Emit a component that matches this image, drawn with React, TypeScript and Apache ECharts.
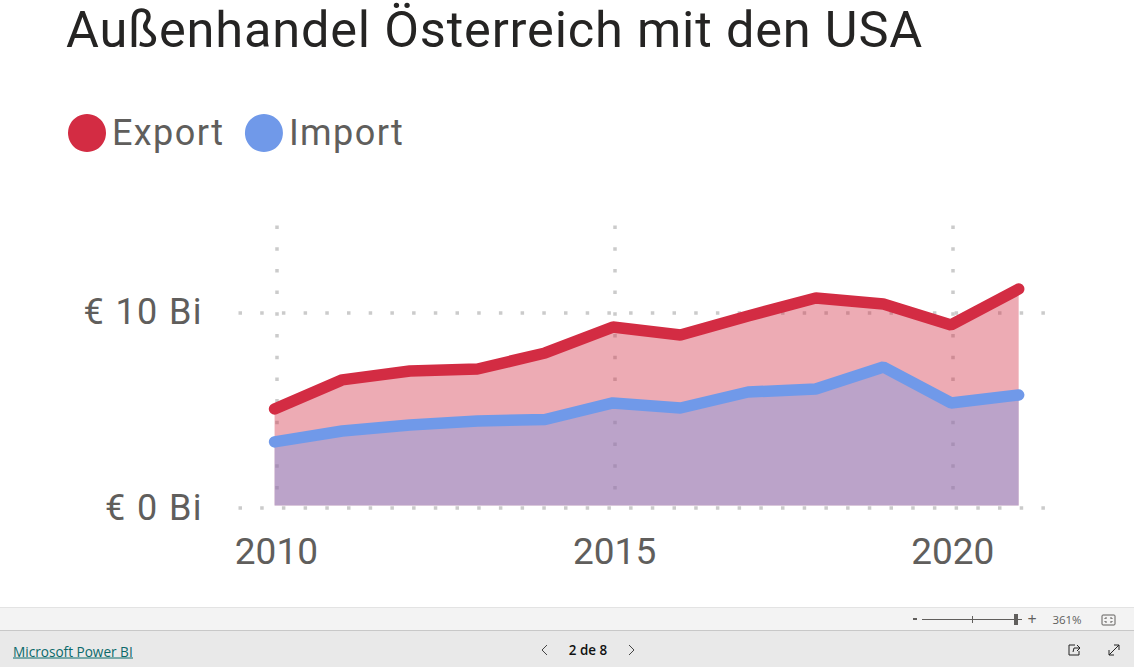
import React, { useEffect, useRef } from "react";
import * as echarts from "echarts";

const years = [2010, 2011, 2012, 2013, 2014, 2015, 2016, 2017, 2018, 2019, 2020, 2021];
const exportValues = [4.95, 6.44, 6.9, 7.0, 7.82, 9.15, 8.74, 9.72, 10.64, 10.33, 9.26, 11.1];
const importValues = [3.26, 3.82, 4.13, 4.33, 4.41, 5.26, 5.0, 5.82, 5.97, 7.1, 5.26, 5.67];
const xTicks = [2010, 2015, 2020];
const yTicks = [0, 10];
const seriesNames = ["Export", "Import"];
const titleText = "Außenhandel Österreich mit den USA";

const RED = "#D32C43";
const BLUE = "#7099E9";
const FONT = "Roboto";
const GRID_DOT = { color: "#CBCBCB", width: 3.5, type: [3.5, 18.2] as number[] };
const X_MIN = 2009.44;
const X_MAX = 2021.37;
const Y_MAX = 14.46;

const pair = (xs: number[], ys: number[]) => xs.map((x, i) => [x, ys[i]]);

export default function App() {
  const ref = useRef<HTMLDivElement>(null);
  useEffect(() => {
    document.body.style.margin = "0";
    const chart = echarts.init(ref.current!, undefined, { renderer: "svg" });
    const line = (x1: number, y1: number, x2: number, y2: number, stroke: string, lineWidth = 1) => ({
      type: "line", shape: { x1, y1, x2, y2 }, style: { stroke, lineWidth }, silent: true,
    });
    const poly = (points: number[][], stroke: string, lineWidth = 1) => ({
      type: "polyline", shape: { points }, style: { stroke, lineWidth, fill: "none" }, silent: true,
    });
    const label = (x: number, y: number, text: string, fill: string, fontSize: number, align = "left", extra: any = {}) => ({
      type: "text", x, y, style: { text, fill, fontSize, fontFamily: "Open Sans", align, verticalAlign: "middle", ...extra }, silent: true,
    });
    chart.setOption({
      animation: false,
      backgroundColor: "#FFFFFF",
      title: {
        text: titleText, left: 61, top: -6,
        textStyle: { fontFamily: FONT, fontSize: 50.5, fontWeight: 400, color: "#252423", lineHeight: 60 },
      },
      legend: {
        left: 63, top: 109, icon: "circle", itemWidth: 38, itemHeight: 38, itemGap: 29,
        data: seriesNames,
        textStyle: { fontFamily: FONT, fontSize: 36, color: "#605E5C", padding: [0, 0, 0, 1] },
      },
      grid: [
        { left: 238.5, right: 88.5, top: 225.5, bottom: 159.5 },
        { left: 236.7, right: 90.3, top: 223.5, bottom: 161.5 },
      ],
      xAxis: [
        {
          type: "value", gridIndex: 0, min: X_MIN, max: X_MAX,
          axisLine: { show: false }, axisTick: { show: false, customValues: xTicks },
          splitLine: { show: true, lineStyle: GRID_DOT },
          axisLabel: {
            customValues: xTicks, formatter: (v: number) => String(v), margin: 25.5,
            fontFamily: FONT, fontSize: 37, color: "#605E5C",
          },
        },
        { type: "value", gridIndex: 1, min: X_MIN, max: X_MAX, show: false, splitLine: { show: false } },
      ],
      yAxis: [
        {
          type: "value", gridIndex: 0, min: 0, max: Y_MAX,
          axisLine: { show: false }, axisTick: { show: false, customValues: yTicks },
          splitLine: { show: true, lineStyle: GRID_DOT },
          axisLabel: {
            customValues: yTicks, formatter: (v: number) => `€ ${v} Bi`, margin: 35.5,
            fontFamily: FONT, fontSize: 36, color: "#605E5C", padding: [4, 0, 0, 0],
          },
        },
        { type: "value", gridIndex: 1, min: 0, max: Y_MAX, show: false, splitLine: { show: false } },
      ],
      series: [
        {
          name: seriesNames[0], type: "line", xAxisIndex: 1, yAxisIndex: 1,
          data: pair(years, exportValues), showSymbol: false, clip: false,
          color: RED, itemStyle: { color: RED },
          lineStyle: { color: RED, width: 11.5, cap: "round", join: "bevel" },
          areaStyle: { color: RED, opacity: 0.4 }, z: 3,
        },
        {
          name: seriesNames[1], type: "line", xAxisIndex: 1, yAxisIndex: 1,
          data: pair(years, importValues), showSymbol: false, clip: false,
          color: BLUE, itemStyle: { color: BLUE },
          lineStyle: { color: BLUE, width: 11.5, cap: "round", join: "bevel" },
          areaStyle: { color: BLUE, opacity: 0.4 }, z: 4,
        },
      ],
      graphic: [
        { type: "rect", shape: { x: 0, y: 607, width: 1134, height: 23 }, style: { fill: "#F3F3F3" }, silent: true },
        { type: "rect", shape: { x: 0, y: 631, width: 1134, height: 36 }, style: { fill: "#E9E9E9" }, silent: true },
        line(0, 607.5, 1134, 607.5, "#E3E3E3"),
        line(0, 630.5, 1134, 630.5, "#C8C8C8"),
        // zoom control
        line(913, 619, 917, 619, "#605E5C", 2),
        line(922, 619.5, 1022, 619.5, "#605E5C"),
        line(972.5, 616, 972.5, 623, "#605E5C"),
        { type: "rect", shape: { x: 1014, y: 614, width: 4, height: 11 }, style: { fill: "#605E5C" }, silent: true },
        label(1032, 618.5, "+", "#605E5C", 16, "center"),
        label(1067, 619, "361%", "#605E5C", 11.5, "center"),
        { type: "rect", shape: { x: 1102, y: 615, width: 13, height: 10, r: 1 }, style: { fill: "none", stroke: "#605E5C", lineWidth: 1 }, silent: true },
        poly([[1105, 619], [1105, 618], [1107, 618]], "#605E5C"),
        poly([[1110, 618], [1112, 618], [1112, 619]], "#605E5C"),
        poly([[1105, 621], [1105, 622], [1107, 622]], "#605E5C"),
        poly([[1110, 622], [1112, 622], [1112, 621]], "#605E5C"),
        // footer
        label(13, 651, "Microsoft Power BI", "#0B6A6B", 13.6, "left", { fontWeight: 400 }),
        line(13, 658, 133, 658, "#0B6A6B"),
        poly([[547, 645], [542, 650], [547, 655]], "#444444"),
        label(588, 650, "2 de 8", "#111111", 13.4, "center", { fontWeight: 600 }),
        poly([[629, 645], [634, 650], [629, 655]], "#444444"),
        // share icon
        poly([[1075, 645], [1069, 645], [1069, 655], [1079, 655], [1079, 651]], "#222222"),
        poly([[1073, 652], [1074, 648], [1080, 648], [1077, 645], [1080, 648], [1077, 651]], "#222222"),
        // expand icon
        line(1109, 655, 1119, 645, "#222222"),
        poly([[1114, 645], [1119, 645], [1119, 650]], "#222222"),
        poly([[1109, 650], [1109, 655], [1114, 655]], "#222222"),
      ],
    });
    return () => chart.dispose();
  }, []);
  return (
    <>
      <style>{`
        text[style*="50.5px"] { letter-spacing: 0.82px; }
        text[style*="36px"] { letter-spacing: 1.4px; }
      `}</style>
      <div ref={ref} style={{ width: 1134, height: 667 }} />
    </>
  );
}
